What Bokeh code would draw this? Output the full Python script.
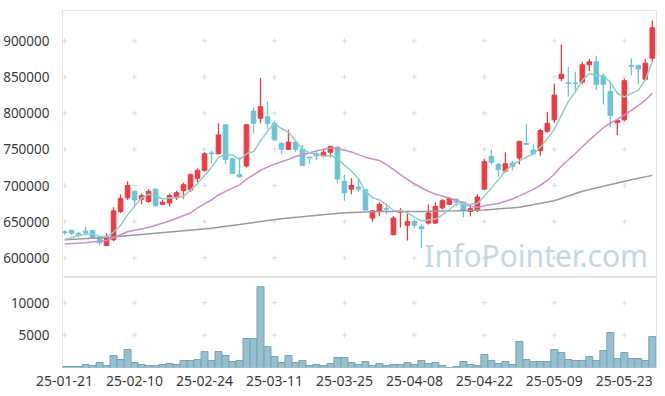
import numpy as np
import pandas as pd
from bokeh.plotting import figure
from bokeh.layouts import column
from bokeh.models import Range1d, FixedTicker, Label, ColumnDataSource, NumeralTickFormatter
from bokeh.embed import file_html
from bokeh.resources import INLINE

# ---------------- data ----------------
opens = [636000, 638000, 634000, 637000, 638000, 629000, 617000, 625000, 664000, 683000,
         692000, 681000, 678000, 695000, 674000, 676000, 683000, 693000, 694000, 710000,
         721000, 745000, 744000, 784000, 737000, 715000, 727000, 803000, 793000, 795000,
         786000, 758000, 750000, 760000, 750000, 739000, 744000, 741000, 746000, 753000,
         706000, 695000, 698000, 694000, 655000, 664000, 668000, 632000, 663000, 645000,
         650000, 643000, 648000, 648000, 669000, 674000, 681000, 677000, 664000, 667000,
         695000, 740000, 729000, 720000, 731000, 738000, 758000, 749000, 748000, 775000,
         791000, 848000, 842000, 841500, 843000, 867000, 871000, 851000, 830000, 787000,
         791000, 866000, 866000, 847000, 876000]
highs = [638000, 639000, 636000, 643000, 639000, 630000, 634000, 670000, 688000, 706000,
         693000, 689000, 695000, 696000, 680000, 689000, 693000, 704000, 717000, 724000,
         746000, 748000, 786000, 784000, 738000, 739000, 785000, 808000, 849000, 816000,
         790000, 760000, 777000, 761000, 756000, 740000, 748000, 749000, 755000, 754000,
         715000, 710000, 709000, 695000, 666000, 677000, 675000, 658000, 669000, 661000,
         653000, 646000, 674000, 677000, 681000, 684000, 682000, 678000, 674000, 688000,
         737000, 749000, 731000, 746000, 734000, 762000, 785000, 757000, 778000, 802000,
         841000, 895000, 864000, 857000, 871000, 875000, 879000, 855000, 844000, 791000,
         848000, 876000, 867000, 875000, 928000]
lows = [632000, 632000, 628000, 631000, 626000, 617000, 616000, 623000, 662000, 680000,
        672000, 674000, 676000, 671000, 673000, 671000, 680000, 682000, 691000, 704000,
        719000, 730000, 743000, 730000, 716000, 711000, 725000, 772000, 786000, 778000,
        762000, 744000, 749000, 746000, 727000, 730000, 735000, 739000, 739000, 703000,
        679000, 688000, 691000, 665000, 650000, 657000, 660000, 631000, 642000, 624000,
        641000, 614000, 646000, 647000, 667000, 673000, 671000, 656000, 657000, 663000,
        694000, 729000, 712000, 718000, 721000, 729000, 756000, 743000, 741000, 773000,
        787000, 844000, 823000, 830000, 840000, 858000, 832000, 812000, 781000, 770000,
        789000, 852000, 840000, 845000, 871000]
closes = [635000, 634000, 632000, 635000, 628000, 621000, 629000, 665000, 682000, 700000,
          680000, 686000, 692000, 672000, 677000, 686000, 690000, 701000, 715000, 721000,
          744000, 744000, 770000, 736000, 717000, 712000, 784000, 786000, 809000, 786000,
          763000, 750000, 760000, 750000, 728000, 738000, 741000, 746000, 754000, 709000,
          690000, 700000, 695000, 666000, 665000, 674000, 667000, 655000, 665000, 650000,
          645000, 640000, 662000, 671000, 679000, 682000, 677000, 665000, 668000, 684000,
          733000, 732000, 722000, 730000, 726000, 761000, 757000, 744000, 776000, 786000,
          825000, 854000, 841000, 841000, 867000, 871000, 840000, 840000, 797000, 790000,
          845000, 865000, 861000, 869000, 918000]
volumes = [150, 150, 150, 460, 300, 770, 300, 1850, 1230, 2770,
           770, 460, 300, 300, 460, 615, 460, 1080, 1080, 1230,
           2460, 1080, 2460, 1850, 925, 1080, 4470, 4470, 12470, 3230,
           1690, 770, 1850, 770, 1080, 300, 460, 300, 615, 1540,
           1540, 770, 460, 925, 300, 615, 300, 460, 460, 770,
           460, 1080, 615, 770, 300, 0, 150, 925, 460, 300,
           2000, 1080, 615, 925, 460, 4000, 1230, 925, 925, 925,
           2770, 2310, 1230, 1080, 1080, 1690, 1080, 2620, 5390, 1385,
           2310, 1385, 1385, 1080, 4770]

# moving averages before enough visible history
ma5_early = [625000, 628000, 631000, 633000]
ma20_early_idx = [0, 3, 6, 9, 12, 15, 18]
ma20_early_val = [619000, 621000, 624000, 636000, 642000, 651000, 662000]
ma60_idx = [0, 6, 13, 21, 25, 30, 35, 40, 45, 51, 56, 60, 65, 70, 74, 77, 81, 84]
ma60_val = [625000, 628000, 634000, 641000, 646000, 653000, 658000, 662500, 664000,
            664000, 665000, 666000, 670000, 679000, 692000, 699000, 708000, 714000]

tick_idx = [0, 10, 20, 30, 40, 50, 60, 70, 80]
tick_labels = ["25-01-21", "25-02-10", "25-02-24", "25-03-11", "25-03-25",
               "25-04-08", "25-04-22", "25-05-09", "25-05-23"]
price_ticks = [600000, 650000, 700000, 750000, 800000, 850000, 900000]
vol_ticks = [5000, 10000]

# ---------------- derived ----------------
n = len(closes)
idx = np.arange(n)
cs = pd.Series(closes, dtype=float)
ma5 = cs.rolling(5).mean().to_numpy()
ma5[:4] = ma5_early
ma20_calc = cs.rolling(20).mean().to_numpy()
ma20_x = list(ma20_early_idx) + list(idx[19:])
ma20_y = list(ma20_early_val) + list(ma20_calc[19:])

UP = "#ee3b40"
DOWN = "#6cc3d8"
colors = [UP if c > o else DOWN for o, c in zip(opens, closes)]
src = ColumnDataSource(dict(
    x=idx, o=opens, h=highs, l=lows, c=closes,
    top=np.maximum(opens, closes), bottom=np.minimum(opens, closes),
    color=colors, vol=volumes))

FONT = "Noto Sans"
TXT = "#3a3a3a"
GRIDC = "#dddddd"
OUTLINE = "#e4e4e4"

x_range = Range1d(-0.3, 84.6)

# ---------------- price panel ----------------
p = figure(width=657, height=277, x_range=x_range, y_range=Range1d(572800, 942000),
           output_backend="svg", toolbar_location=None, x_axis_location=None,
           min_border_left=62, min_border_right=1, min_border_top=10, min_border_bottom=0)
p.grid.visible = False
p.outline_line_color = OUTLINE
p.yaxis.ticker = FixedTicker(ticks=price_ticks)
p.yaxis.formatter = NumeralTickFormatter(format="0")
p.yaxis.axis_line_color = None
p.yaxis.major_tick_line_color = None
p.yaxis.minor_tick_line_color = None
p.yaxis.major_label_standoff = 7
p.yaxis.major_label_text_font = FONT
p.yaxis.major_label_text_font_size = "13.5px"
p.yaxis.major_label_text_color = TXT

gx = [x for x in tick_idx for _ in price_ticks]
gy = [y for _ in tick_idx for y in price_ticks]
p.scatter(gx, gy, marker="cross", size=5, line_color=GRIDC, line_width=1)

p.segment(x0="x", y0="l", x1="x", y1="h", source=src, line_color="color", line_width=1.3)
p.vbar(x="x", top="top", bottom="bottom", width=0.66, source=src,
       fill_color="color", line_color="color", line_width=1)

p.line(ma60_idx, ma60_val, line_color="#9a9a9a", line_width=1.5)
p.line(ma20_x, ma20_y, line_color="#cc8fc8", line_width=1.5)
p.line(idx, ma5, line_color="#8fcfc6", line_width=1.5)

p.add_layout(Label(x=83.4, y=603000, text="InfoPointer.com", text_align="right",
                   text_baseline="middle", text_font=FONT, text_font_size="30px",
                   text_color="#c4d8e1"))

# ---------------- volume panel ----------------
v = figure(width=657, height=111, x_range=x_range, y_range=Range1d(0, 13900),
           output_backend="svg", toolbar_location=None,
           min_border_left=62, min_border_right=1, min_border_top=0, min_border_bottom=21)
v.grid.visible = False
v.outline_line_color = OUTLINE
v.yaxis.ticker = FixedTicker(ticks=vol_ticks)
v.xaxis.ticker = FixedTicker(ticks=tick_idx)
v.xaxis.major_label_overrides = {t: lab for t, lab in zip(tick_idx, tick_labels)}
for ax in (v.xaxis, v.yaxis):
    ax.axis_line_color = None
    ax.major_tick_line_color = None
    ax.minor_tick_line_color = None
    ax.major_label_text_font = FONT
    ax.major_label_text_color = TXT
v.yaxis.major_label_text_font_size = "13.5px"
v.xaxis.major_label_text_font_size = "14px"
v.yaxis.major_label_standoff = 7
v.xaxis.major_label_standoff = 2

vgx = [x for x in tick_idx for _ in vol_ticks]
vgy = [y for _ in tick_idx for y in vol_ticks]
v.scatter(vgx, vgy, marker="cross", size=5, line_color=GRIDC, line_width=1)
v.vbar(x="x", top="vol", bottom=0, width=1.0, source=src,
       fill_color="#98bfcf", line_color="#75a3b8", line_width=1)

layout = column(p, v, spacing=0)
open("out.html", "w").write(file_html(layout, INLINE))
